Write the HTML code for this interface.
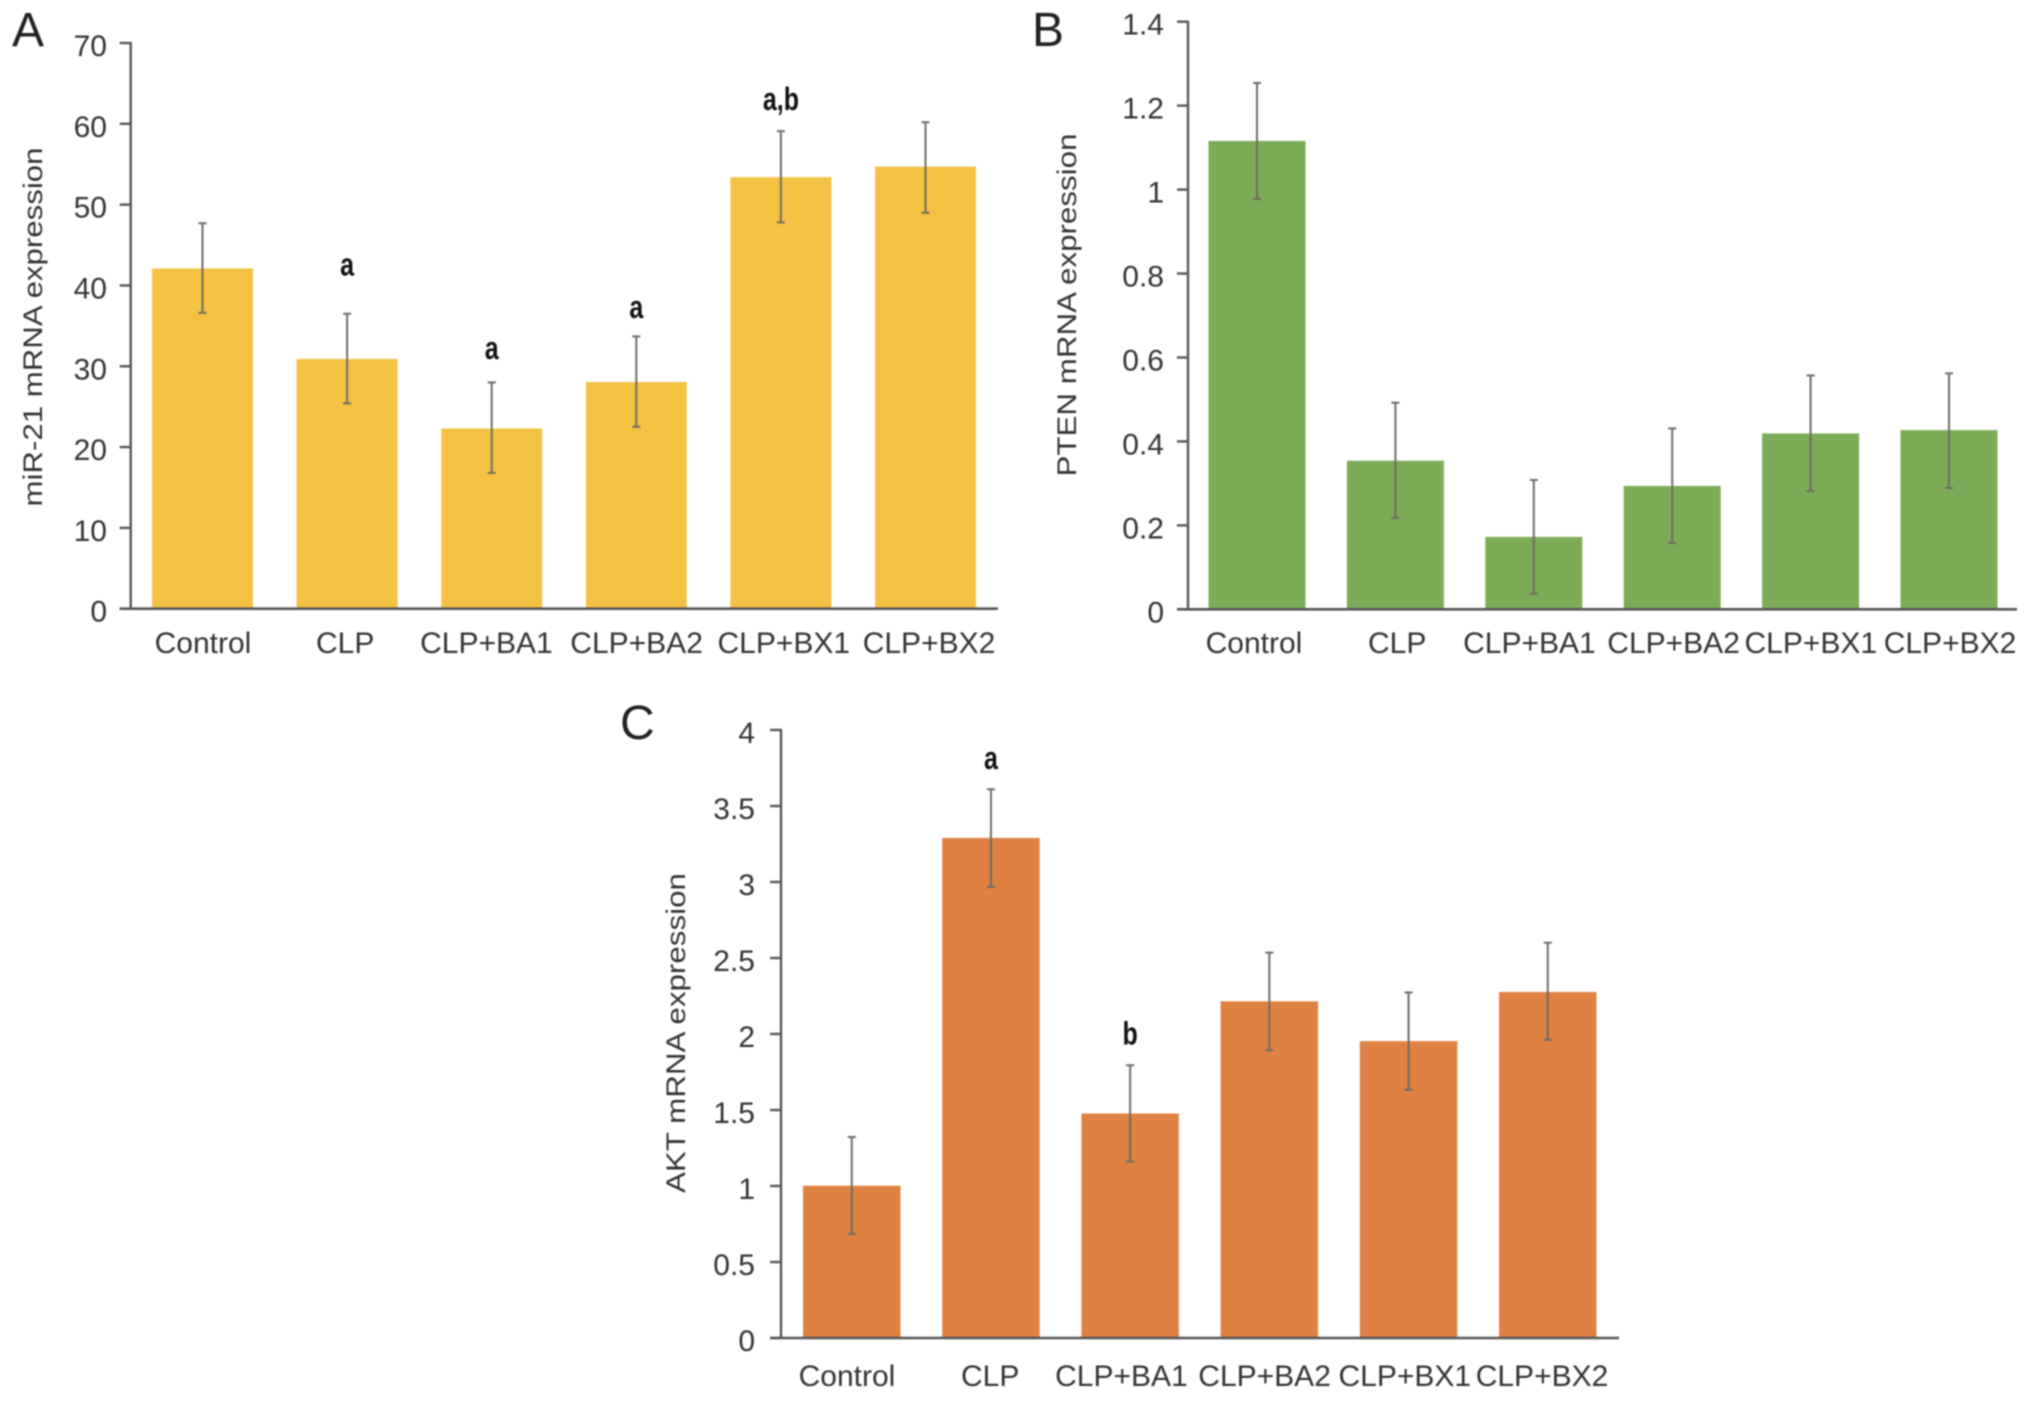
<!DOCTYPE html>
<html lang="en">
<head>
<meta charset="utf-8">
<title>miR-21, PTEN and AKT mRNA expression</title>
<style>
  html, body { margin: 0; padding: 0; background: #fff; }
  svg { display: block; filter: blur(0.7px); }
  text { font-family: "Liberation Sans", Arial, sans-serif; fill: #333; }
</style>
</head>
<body>
<svg id="figure" xmlns="http://www.w3.org/2000/svg" width="2032" height="1406" viewBox="0 0 2032 1406">
  <rect x="0" y="0" width="2032" height="1406" fill="#ffffff"/>
</svg>
<script>
// Shared categories
const categories = ['Control', 'CLP', 'CLP+BA1', 'CLP+BA2', 'CLP+BX1', 'CLP+BX2'];

// Panel A: miR-21
const mir21Ticks = [0, 10, 20, 30, 40, 50, 60, 70];
const mir21Values = [42.1, 30.9, 22.3, 28.05, 53.4, 54.7];
const mir21ErrHigh = [47.7, 36.5, 28.0, 33.7, 59.1, 60.2];
const mir21ErrLow = [36.6, 25.4, 16.8, 22.5, 47.8, 49.0];
const mir21Marks = ['', 'a', 'a', 'a', 'a,b', ''];
const mir21MarkLevels = [0, 41.2, 30.9, 36.0, 61.7, 0];

// Panel B: PTEN
const ptenTicks = [0, 0.2, 0.4, 0.6, 0.8, 1, 1.2, 1.4];
const ptenValues = [1.116, 0.354, 0.1725, 0.294, 0.419, 0.427];
const ptenErrHigh = [1.254, 0.492, 0.308, 0.431, 0.557, 0.562];
const ptenErrLow = [0.978, 0.218, 0.037, 0.158, 0.282, 0.289];
const ptenMarks = ['', '', '', '', '', ''];
const ptenMarkLevels = [0, 0, 0, 0, 0, 0];

// Panel C: AKT
const aktTicks = [0, 0.5, 1, 1.5, 2, 2.5, 3, 3.5, 4];
const aktValues = [1.002, 3.29, 1.477, 2.215, 1.953, 2.276];
const aktErrHigh = [1.322, 3.61, 1.794, 2.535, 2.273, 2.6];
const aktErrLow = [0.685, 2.967, 1.16, 1.892, 1.633, 1.962];
const aktMarks = ['', 'a', 'b', '', '', ''];
const aktMarkLevels = [0, 3.744, 1.931, 0, 0, 0];

const svg = document.getElementById('figure');
const SVG_NS = 'http://www.w3.org/2000/svg';

function make(tag, attrs, parent) {
  const node = document.createElementNS(SVG_NS, tag);
  for (const key in attrs) node.setAttribute(key, attrs[key]);
  parent.appendChild(node);
  return node;
}

function drawPanel(p) {
  const group = make('g', {}, svg);
  
  

  const maxTick = p.ticks[p.ticks.length - 1];
  const yScale = v => p.zeroY - (v / maxTick) * (p.zeroY - p.topY);
  const barX = i => p.barStart + i * p.barStep;
  const barCenter = i => barX(i) + p.barWidth / 2;
  const labelX = i => p.labelStart + i * p.labelStep + p.labelNudge[i];

  // Panel letter
  const letter = make('text', { x: p.letterX, y: p.letterY, 'font-size': 48, style: 'fill:#222' }, group);
  
  
  letter.textContent = p.letter;

  // Bars
  categories.forEach((cat, i) => {
    const bar = make('rect', {
      x: barX(i), y: yScale(p.values[i]), width: p.barWidth,
      height: p.zeroY - yScale(p.values[i]), fill: p.color
    }, group);
    
    
  });

  // Error bars
  categories.forEach((cat, i) => {
    const cx = barCenter(i);
    const hi = yScale(p.errHigh[i]);
    const lo = yScale(p.errLow[i]);
    const err = make('path', {
      d: 'M' + cx + ' ' + hi + 'V' + lo +
         'M' + (cx - 4) + ' ' + hi + 'H' + (cx + 4) +
         'M' + (cx - 4) + ' ' + lo + 'H' + (cx + 4),
      stroke: '#6f6c62', 'stroke-width': 2, fill: 'none'
    }, group);
    
    
  });

  // Y axis
  const yAxis = make('line', {
    x1: p.axisX, x2: p.axisX, y1: p.topY - 1, y2: p.zeroY, stroke: '#555', 'stroke-width': 2.4
  }, group);
  
  

  // Y ticks and labels
  p.ticks.forEach(t => {
    const mark = make('line', {
      x1: p.axisX - 11, x2: p.axisX, y1: yScale(t), y2: yScale(t), stroke: '#555', 'stroke-width': 2.4
    }, group);
    
    

    const label = make('text', {
      x: p.tickLabelX, y: yScale(t) + 13, 'font-size': 30, 'text-anchor': 'end'
    }, group);
    
    
    label.textContent = String(t);
  });

  // X axis
  const xAxis = make('line', {
    x1: p.axisX - 11, x2: p.axisEnd, y1: p.zeroY, y2: p.zeroY, stroke: '#555', 'stroke-width': 2.6
  }, group);
  
  

  // X labels
  categories.forEach((cat, i) => {
    const label = make('text', {
      x: labelX(i), y: p.labelY, 'font-size': 30, 'text-anchor': 'middle'
    }, group);
    
    
    label.textContent = cat;
  });

  // Y-axis title
  const title = make('text', {
    transform: 'translate(' + p.titleX + ' ' + p.titleCenterY + ') rotate(-90)',
    'font-size': 27, 'text-anchor': 'middle',
    textLength: p.titleLength, lengthAdjust: 'spacingAndGlyphs'
  }, group);
  
  
  title.textContent = p.title;

  // Significance letters
  p.marks.forEach((m, i) => {
    if (!m) return;
    const sig = make('text', {
      transform: 'translate(' + barCenter(i) + ' ' + yScale(p.markLevels[i]) + ') scale(0.78 1)',
      'font-size': 32, 'font-weight': 'bold', 'text-anchor': 'middle', style: 'fill:#111'
    }, group);
    
    
    sig.textContent = m;
  });
}

drawPanel({
  id: 'mir21', letter: 'A', letterX: 12, letterY: 46,
  title: 'miR-21 mRNA expression', titleX: 42, titleCenterY: 327, titleLength: 359,
  ticks: mir21Ticks, values: mir21Values, errHigh: mir21ErrHigh, errLow: mir21ErrLow,
  marks: mir21Marks, markLevels: mir21MarkLevels, color: '#f4c242',
  axisX: 130.7, axisEnd: 998, topY: 43, zeroY: 608.7, tickLabelX: 107,
  barStart: 152, barStep: 144.6, barWidth: 101,
  labelStart: 203, labelStep: 145.2, labelY: 653, labelNudge: [0, -3, -7, -2, 0, 0]
});

drawPanel({
  id: 'pten', letter: 'B', letterX: 1032, letterY: 46,
  title: 'PTEN mRNA expression', titleX: 1076, titleCenterY: 305, titleLength: 343,
  ticks: ptenTicks, values: ptenValues, errHigh: ptenErrHigh, errLow: ptenErrLow,
  marks: ptenMarks, markLevels: ptenMarkLevels, color: '#7dac58',
  axisX: 1188, axisEnd: 2017, topY: 21.7, zeroY: 609.3, tickLabelX: 1164,
  barStart: 1208.5, barStep: 138.4, barWidth: 97,
  labelStart: 1254, labelStep: 139.2, labelY: 653, labelNudge: [0, 4, -3, 2, 0, 0]
});

drawPanel({
  id: 'akt', letter: 'C', letterX: 620, letterY: 739,
  title: 'AKT mRNA expression', titleX: 685, titleCenterY: 1033, titleLength: 320,
  ticks: aktTicks, values: aktValues, errHigh: aktErrHigh, errLow: aktErrLow,
  marks: aktMarks, markLevels: aktMarkLevels, color: '#e08144',
  axisX: 781, axisEnd: 1619, topY: 730, zeroY: 1338, tickLabelX: 755,
  barStart: 803, barStep: 139.2, barWidth: 97.5,
  labelStart: 846, labelStep: 139.2, labelY: 1386, labelNudge: [1, 5, -3, 1, 2, 0]
});
</script>
</body>
</html>
